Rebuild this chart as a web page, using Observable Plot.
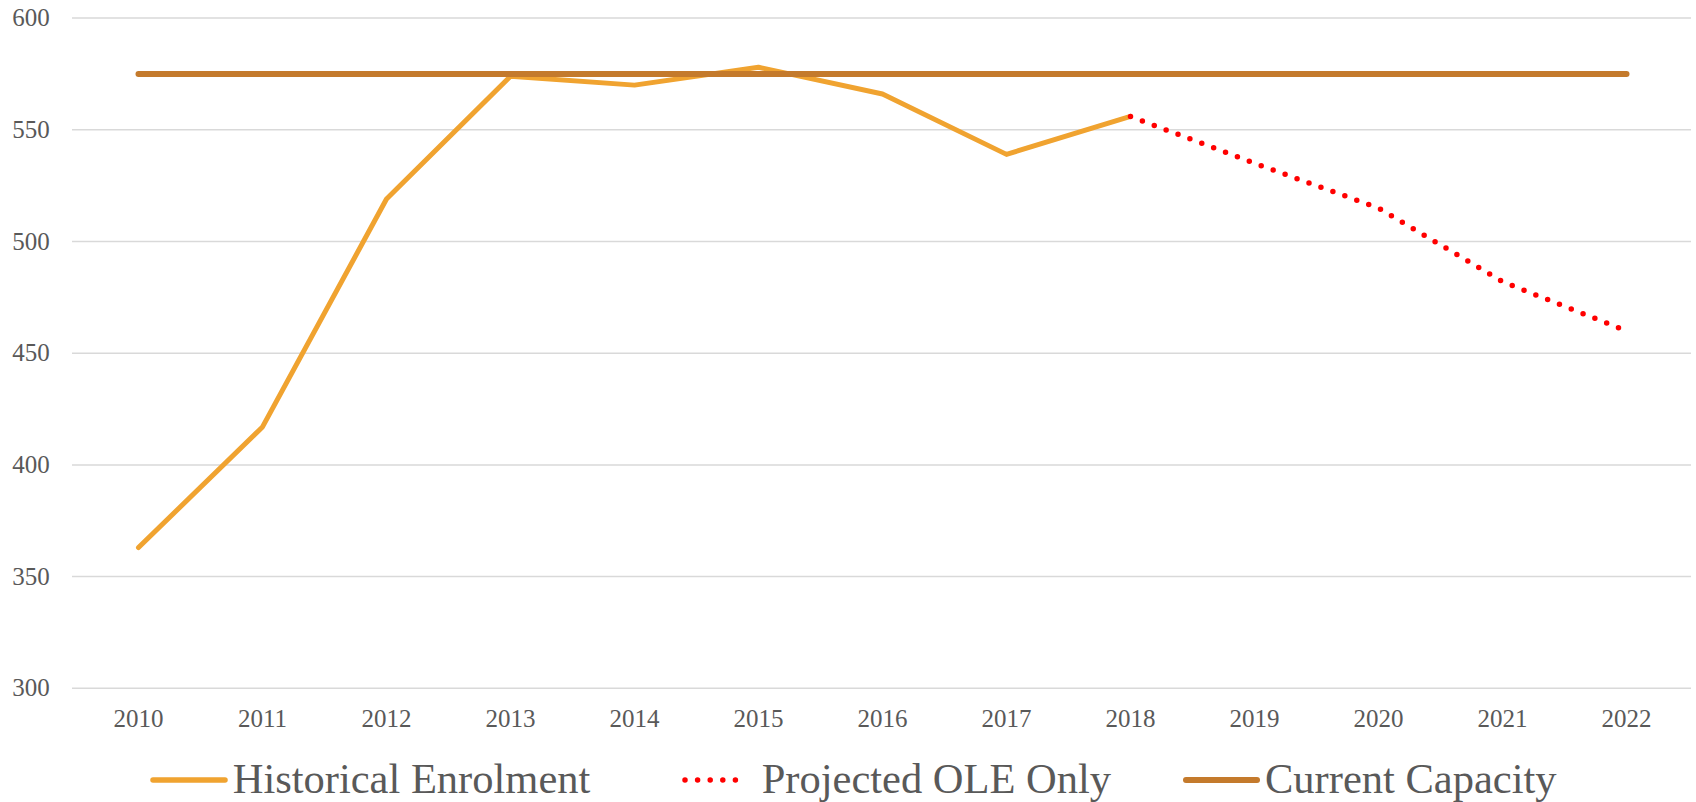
<!DOCTYPE html>
<html><head><meta charset="utf-8">
<script src="https://cdn.jsdelivr.net/npm/d3@7"></script>
<script src="https://cdn.jsdelivr.net/npm/@observablehq/plot@0.6"></script>
<style>
html,body{margin:0;padding:0;background:#fff;}
#chart{width:1696px;}
#legend{display:block;}
</style></head><body><div id="chart"></div>
<script>
const years = ["2010","2011","2012","2013","2014","2015","2016","2017","2018","2019","2020","2021","2022"];
const historicalYears = ["2010","2011","2012","2013","2014","2015","2016","2017","2018"];
const historicalValues = [363,417,519,574,570,578,566,539,556];
const projectedYears = ["2018","2019","2020","2021","2022"];
const projectedValues = [556,535,515,482,460];
const capacityYears = years;
const capacityValues = [575,575,575,575,575,575,575,575,575,575,575,575,575];
const yTicks = [300,350,400,450,500,550,600];
const seriesNames = ["Historical Enrolment","Projected OLE Only","Current Capacity"];

const hist = historicalYears.map((y,i)=>({year:y, value:historicalValues[i]}));
const proj = projectedYears.map((y,i)=>({year:y, value:projectedValues[i]}));
const cap = capacityYears.map((y,i)=>({year:y, value:capacityValues[i]}));

const colors = {hist:"#F0A330", proj:"#FF0000", cap:"#C47A2C"};
const font = "'Liberation Serif', 'DejaVu Serif', serif";

const chart = Plot.plot({
  width:1696, height:745,
  marginTop:17.6, marginBottom:57.2, marginLeft:72, marginRight:5,
  style:{fontFamily:font, fontSize:"25px", color:"#595959", background:"white"},
  x:{type:"point", domain:years, padding:0.5, label:null},
  y:{domain:[300,600], label:null},
  marks:[
    Plot.gridY(yTicks,{stroke:"#d9d9d9", strokeOpacity:1, strokeWidth:1.5}),
    Plot.axisY(yTicks,{tickSize:0, tickPadding:22.7, label:null, fontSize:25}),
    Plot.axisX(years,{tickSize:0, tickPadding:20.5, label:null, fontSize:25}),
    Plot.line(hist,{x:"year", y:"value", stroke:colors.hist, strokeWidth:5, strokeLinejoin:"round", strokeLinecap:"round"}),
    Plot.line(proj,{x:"year", y:"value", stroke:colors.proj, strokeWidth:5.5, strokeDasharray:"0 12.7", strokeLinecap:"round", strokeLinejoin:"round"}),
    Plot.line(cap,{x:"year", y:"value", stroke:colors.cap, strokeWidth:6, strokeLinecap:"round"})
  ]
});
document.getElementById("chart").appendChild(chart);

// Legend below the chart
const legendItems = [
  {name:seriesNames[0], color:colors.hist, width:5.5, dash:null, x1:153, x2:225, tx:232.7},
  {name:seriesNames[1], color:colors.proj, width:5.5, dash:"0 12.6", x1:685, x2:748, tx:761.7},
  {name:seriesNames[2], color:colors.cap, width:6, dash:null, x1:1186, x2:1257, tx:1265}
];
const svg = d3.create("svg").attr("id","legend").attr("width",1696).attr("height",57)
  .style("font-family", font);
for (const it of legendItems) {
  const l = svg.append("line").attr("x1",it.x1).attr("x2",it.x2).attr("y1",35).attr("y2",35)
    .attr("stroke",it.color).attr("stroke-width",it.width).attr("stroke-linecap","round");
  if (it.dash) l.attr("stroke-dasharray", it.dash);
  svg.append("text").attr("x",it.tx).attr("y",47.5).attr("fill","#595959")
    .attr("font-size",42.5).text(it.name);
}
document.getElementById("chart").appendChild(svg.node());
</script>
</body></html>
